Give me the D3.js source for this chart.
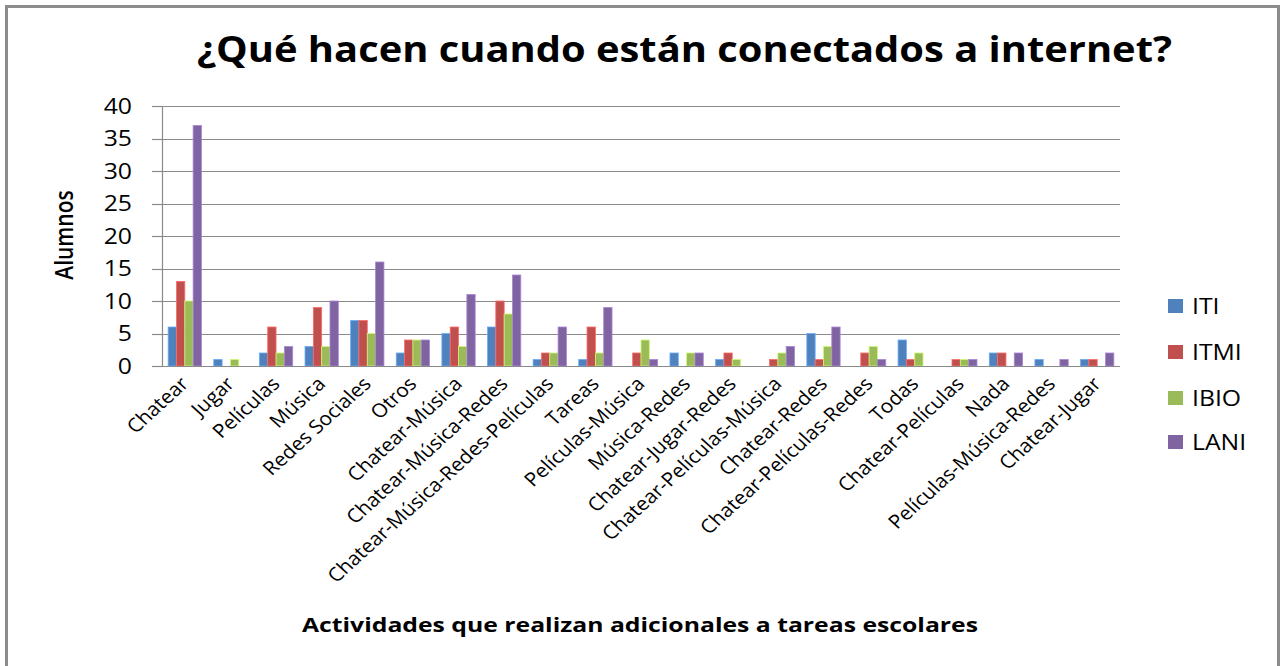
<!DOCTYPE html>
<html>
<head>
<meta charset="utf-8">
<script src="https://cdn.jsdelivr.net/npm/d3@7"></script>
<style>
  html, body { margin: 0; padding: 0; background: #fff; }
  text { font-family: "Open Sans", "DejaVu Sans", sans-serif; fill: #000; }
</style>
</head>
<body>
<svg id="chart" width="1285" height="666"></svg>
<script>
const categories = ["Chatear","Jugar","Películas","Música","Redes Sociales","Otros","Chatear-Música","Chatear-Música-Redes","Chatear-Música-Redes-Películas","Tareas","Películas-Música","Música-Redes","Chatear-Jugar-Redes","Chatear-Películas-Música","Chatear-Redes","Chatear-Películas-Redes","Todas","Chatear-Películas","Nada","Películas-Música-Redes","Chatear-Jugar"];
const seriesNames = ["ITI","ITMI","IBIO","LANI"];
const ITI  = [6,1,2,3,7,2,5,6,1,1,0,2,1,0,5,0,4,0,2,1,1];
const ITMI = [13,0,6,9,7,4,6,10,2,6,2,0,2,1,1,2,1,1,2,0,1];
const IBIO = [10,1,2,3,5,4,3,8,2,2,4,2,1,2,3,3,2,1,0,0,0];
const LANI = [37,0,3,10,16,4,11,14,6,9,1,2,0,3,6,1,0,1,2,1,2];
const yTicks = [0,5,10,15,20,25,30,35,40];
const colors = ["#4F81BD","#C0504D","#9BBB59","#8064A2"];
const titleText = "¿Qué hacen cuando están conectados a internet?";
const xTitle = "Actividades que realizan adicionales a tareas escolares";
const yTitle = "Alumnos";

(function () {
const seriesValues = [ITI, ITMI, IBIO, LANI];
const S = 1.18;   // horizontal stretch of the original picture
const SL = 1.1;   // stretch for rotated category labels

const svg = d3.select("#chart");

// outer border
svg.append("rect").attr("x", 6.5).attr("y", 6.5).attr("width", 1272).attr("height", 700)
  .attr("fill", "#fff").attr("stroke", "#8c8c8c").attr("stroke-width", 3);

const pLeft = 162, pRight = 1120, pTop = 106, pBottom = 366;

const x = d3.scaleBand().domain(categories).range([pLeft, pRight]).paddingInner(0.27).paddingOuter(0.135);
const xs = d3.scaleBand().domain(seriesNames).range([0, x.bandwidth()]).padding(0);
const y = d3.scaleLinear().domain([0, 40]).range([pBottom, pTop]);

// gridlines
svg.append("g").selectAll("line").data(yTicks.filter(d => d > 0)).join("line")
  .attr("x1", pLeft - 10).attr("x2", pRight)
  .attr("y1", d => Math.round(y(d)) + 0.5).attr("y2", d => Math.round(y(d)) + 0.5)
  .attr("stroke", "#8a8a8a").attr("stroke-width", 1.2);

// bars
const groups = svg.append("g").selectAll("g").data(categories).join("g")
  .attr("transform", d => `translate(${x(d)},0)`);
groups.selectAll("rect").data((c, i) => seriesNames.map((s, k) => ({s, k, v: seriesValues[k][i]})))
  .join("rect")
  .attr("x", d => xs(d.s))
  .attr("width", xs.bandwidth())
  .attr("y", d => y(d.v))
  .attr("height", d => pBottom - y(d.v))
  .attr("fill", d => colors[d.k])
  .attr("stroke", d => d3.color(colors[d.k]).brighter(0.8))
  .attr("stroke-width", 0.8)
  .attr("display", d => d.v > 0 ? null : "none");

// y axis
const yAxis = svg.append("g");
yAxis.append("line").attr("x1", pLeft + 0.5).attr("x2", pLeft + 0.5).attr("y1", pTop).attr("y2", pBottom)
  .attr("stroke", "#8a8a8a").attr("stroke-width", 1.2);
yAxis.selectAll("line.tick").data(yTicks).join("line").attr("class", "tick")
  .attr("x1", pLeft - 10).attr("x2", pLeft)
  .attr("y1", d => Math.round(y(d)) + 0.5).attr("y2", d => Math.round(y(d)) + 0.5)
  .attr("stroke", "#8a8a8a").attr("stroke-width", 1.2);
yAxis.selectAll("text").data(yTicks).join("text")
  .attr("transform", d => `translate(132,${y(d)}) scale(${S},1)`)
  .attr("text-anchor", "end").attr("dy", "0.36em")
  .style("font-size", "21px")
  .text(d => d);

// x axis line
svg.append("line").attr("x1", pLeft).attr("x2", pRight).attr("y1", pBottom + 0.5).attr("y2", pBottom + 0.5)
  .attr("stroke", "#8a8a8a").attr("stroke-width", 1.2);

// x labels
svg.append("g").selectAll("text").data(categories).join("text")
  .attr("transform", d => `translate(${x(d) + x.bandwidth() / 2 + 5},${pBottom + 19}) scale(${SL},1) rotate(-45)`)
  .attr("text-anchor", "end")
  .style("font-size", "19px")
  .text(d => d);

// title
svg.append("text").attr("x", 684.5).attr("y", 62).attr("text-anchor", "middle")
  .attr("textLength", 975).attr("lengthAdjust", "spacingAndGlyphs")
  .style("font-size", "35px").style("font-weight", "bold")
  .text(titleText);

// x title
svg.append("text").attr("x", 640).attr("y", 632).attr("text-anchor", "middle")
  .attr("textLength", 676).attr("lengthAdjust", "spacingAndGlyphs")
  .style("font-size", "20px").style("font-weight", "bold")
  .text(xTitle);

// y title
svg.append("text").attr("transform", `translate(73,235) scale(${S},1) rotate(-90)`)
  .attr("text-anchor", "middle")
  .style("font-size", "21px").style("font-weight", "600")
  .text(yTitle);

// legend
const legendY = [306, 352, 398, 442];
const lg = svg.append("g").selectAll("g").data(seriesNames).join("g")
  .attr("transform", (d, i) => `translate(1168,${legendY[i]})`);
lg.append("rect").attr("x", 0).attr("y", -7).attr("width", 15).attr("height", 14)
  .attr("fill", (d, i) => colors[i]);
lg.append("text").attr("transform", `translate(24,0) scale(${S},1)`).attr("dy", "0.36em")
  .style("font-size", "21px").text(d => d);
})();
</script>
</body>
</html>
